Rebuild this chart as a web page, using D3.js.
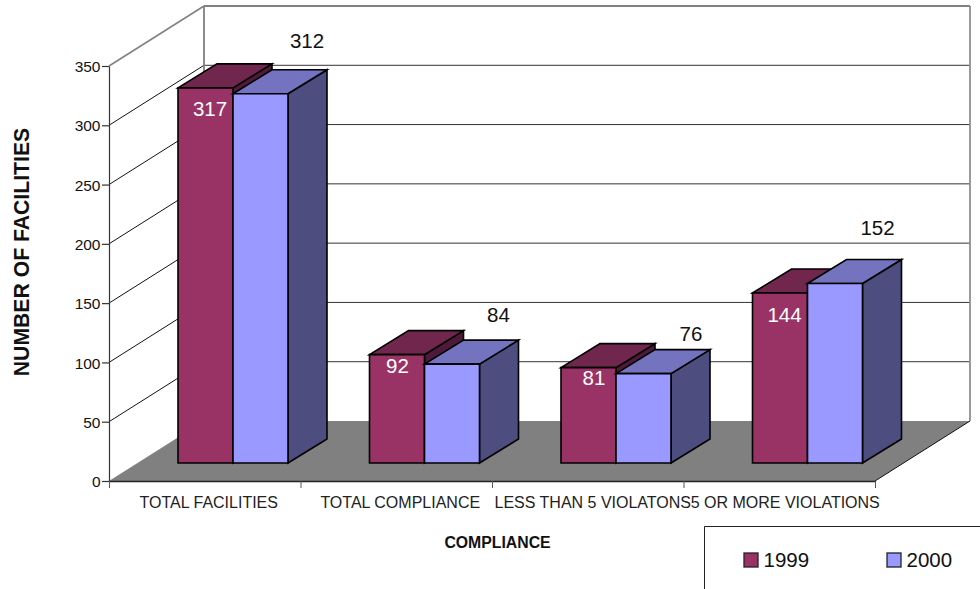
<!DOCTYPE html>
<html><head><meta charset="utf-8">
<script src="https://cdn.jsdelivr.net/npm/d3@7"></script>
<style>html,body{margin:0;padding:0;background:#fff}svg{display:block}text{font-family:"Liberation Sans",Arial,sans-serif}</style>
</head><body><svg id="c" width="980" height="589"></svg>
<script>
const categories = ["TOTAL FACILITIES","TOTAL COMPLIANCE","LESS THAN 5 VIOLATONS","5 OR MORE VIOLATIONS"];
const series1999 = [317,92,81,144];
const series2000 = [312,84,76,152];
const yTicks = [0,50,100,150,200,250,300,350];
const seriesNames = ["1999","2000"];

// label nudges relative to the projected bar top (3D placement in the source is irregular)
const label1999Dy = [21,11,10,22];
const label1999Dx = [32,28,33,32];
const label2000Dy = [-53,-49,-40,-56];
const label2000Dx = [74,74,75,70];

const svg = d3.select("#c");
const x = d3.scaleBand().domain(categories).range([109,875]);
const y = d3.scaleLinear().domain([0,350]).range([481,66]);
const wallDx = 95, wallDy = -60;      // depth of the whole chart box
const barW = 55, baseDy = -18, baseDx = 28.5, depthX = 39, depthY = -24;
const poly = (pts, fill, stroke, sw) => svg.append("polygon")
  .attr("points", pts.map(p=>p.join(",")).join(" "))
  .attr("fill", fill).attr("stroke", stroke||"none").attr("stroke-width", sw||0).attr("stroke-linejoin","miter");
const line = (a,b,c,w) => svg.append("line").attr("x1",a[0]).attr("y1",a[1]).attr("x2",b[0]).attr("y2",b[1]).attr("stroke",c).attr("stroke-width",w);

const x0 = 109, x1 = 875, yB = y(0), yT = y(350);
// floor
poly([[x0,yB],[x0+wallDx,yB+wallDy],[x1+wallDx,yB+wallDy],[x1,yB]],"#808080");
// gridlines
yTicks.slice(1,-1).forEach(t=>{
  line([x0,y(t)],[x0+wallDx,y(t)+wallDy],"#111",1);
  line([x0+wallDx,y(t)+wallDy],[x1+wallDx,y(t)+wallDy],"#333",1);
});
// wall outline
line([x0,yT],[x0+wallDx,yT+wallDy],"#808080",1.5);
line([x0+wallDx,yT+wallDy],[x1+wallDx,yT+wallDy],"#808080",1.8);
line([x0+wallDx,yT+wallDy],[x0+wallDx,yB+wallDy],"#808080",1.8);
line([x1+wallDx,yT+wallDy],[x1+wallDx,yB+wallDy],"#909090",1.8);
line([x1,yB],[x1+wallDx,yB+wallDy],"#111",1);

// axes
const gy = svg.append("g").attr("transform",`translate(${x0},0)`)
  .call(d3.axisLeft(y).tickValues(yTicks).tickSize(7).tickSizeOuter(0));
gy.selectAll("text").attr("font-size",15.5).attr("fill","#111").attr("x",-8.5).attr("dy","0.36em");
gy.selectAll("line,path").attr("stroke","#333").attr("stroke-width",1.2);
const xEdges = d3.scalePoint().domain(d3.range(categories.length+1)).range([x0,x1]);
const gx = svg.append("g").attr("transform",`translate(0,${yB})`)
  .call(d3.axisBottom(xEdges).tickSize(7).tickSizeOuter(0).tickFormat(""));
gx.selectAll("line").attr("stroke","#555").attr("stroke-width",1);
gx.selectAll("path").attr("stroke","#222").attr("stroke-width",1.5);
const catDx = [4,4,5,6];
svg.selectAll(".cat").data(categories).join("text").attr("class","cat")
  .attr("x",(d,i)=>x(d)+x.bandwidth()/2+catDx[i]).attr("y",508).attr("text-anchor","middle")
  .attr("font-size",16).attr("fill","#222").text(d=>d);

// bars
const stroke="#000", sw=1.6;
categories.forEach((c,i)=>{
  const L = x(c)+x.bandwidth()/2-barW+baseDx-0.25, base = yB+baseDy;
  const top1 = y(series1999[i])+baseDy+0.7, top2 = y(series2000[i])+baseDy+0.7;
  const M = L+barW, R = M+barW;
  // 1999 side, top, front
  poly([[M,top1],[M+depthX,top1+depthY],[M+depthX,base+depthY],[M,base]],"#4d1a3a",stroke,sw);
  poly([[L,top1],[L+depthX,top1+depthY],[M+depthX,top1+depthY],[M,top1]],"#70264d",stroke,sw);
  poly([[L,top1],[M,top1],[M,base],[L,base]],"#993366",stroke,sw);
  // 2000 side, top, front
  poly([[R,top2],[R+depthX,top2+depthY],[R+depthX,base+depthY],[R,base]],"#4d4d80",stroke,sw);
  poly([[M,top2],[M+depthX,top2+depthY],[R+depthX,top2+depthY],[R,top2]],"#7373bf",stroke,sw);
  poly([[M,top2],[R,top2],[R,base],[M,base]],"#9999ff",stroke,sw);
  svg.append("text").attr("x",L+label1999Dx[i]).attr("y",top1+label1999Dy[i]).attr("dy","0.35em")
    .attr("text-anchor","middle").attr("font-size",20.5).attr("fill","#fff").text(series1999[i]);
  svg.append("text").attr("x",L+label2000Dx[i]+55).attr("y",top2+label2000Dy[i]).attr("dy","0.35em")
    .attr("text-anchor","middle").attr("font-size",20.5).attr("fill","#111").text(series2000[i]);
});

// titles
svg.append("text").attr("transform","translate(29,252) rotate(-90)").attr("text-anchor","middle")
  .attr("font-size",21.2).attr("font-weight","bold").attr("fill","#111").text("NUMBER OF FACILITIES");
svg.append("text").attr("x",497.5).attr("y",547.5).attr("text-anchor","middle")
  .attr("font-size",15.8).attr("font-weight","bold").attr("fill","#111").text("COMPLIANCE");

// legend
svg.append("path").attr("d","M704.5,589V526.5H980").attr("fill","none").attr("stroke","#222").attr("stroke-width",1);
const legendX=[744,887], legendColors=["#993366","#9999ff"];
seriesNames.forEach((n,i)=>{
  svg.append("rect").attr("x",legendX[i]).attr("y",553).attr("width",14).attr("height",14)
    .attr("fill",legendColors[i]).attr("stroke","#222").attr("stroke-width",1.3);
  svg.append("text").attr("x",legendX[i]+19.5).attr("y",567).attr("font-size",20.5).attr("fill","#111").text(n);
});
</script></body></html>
